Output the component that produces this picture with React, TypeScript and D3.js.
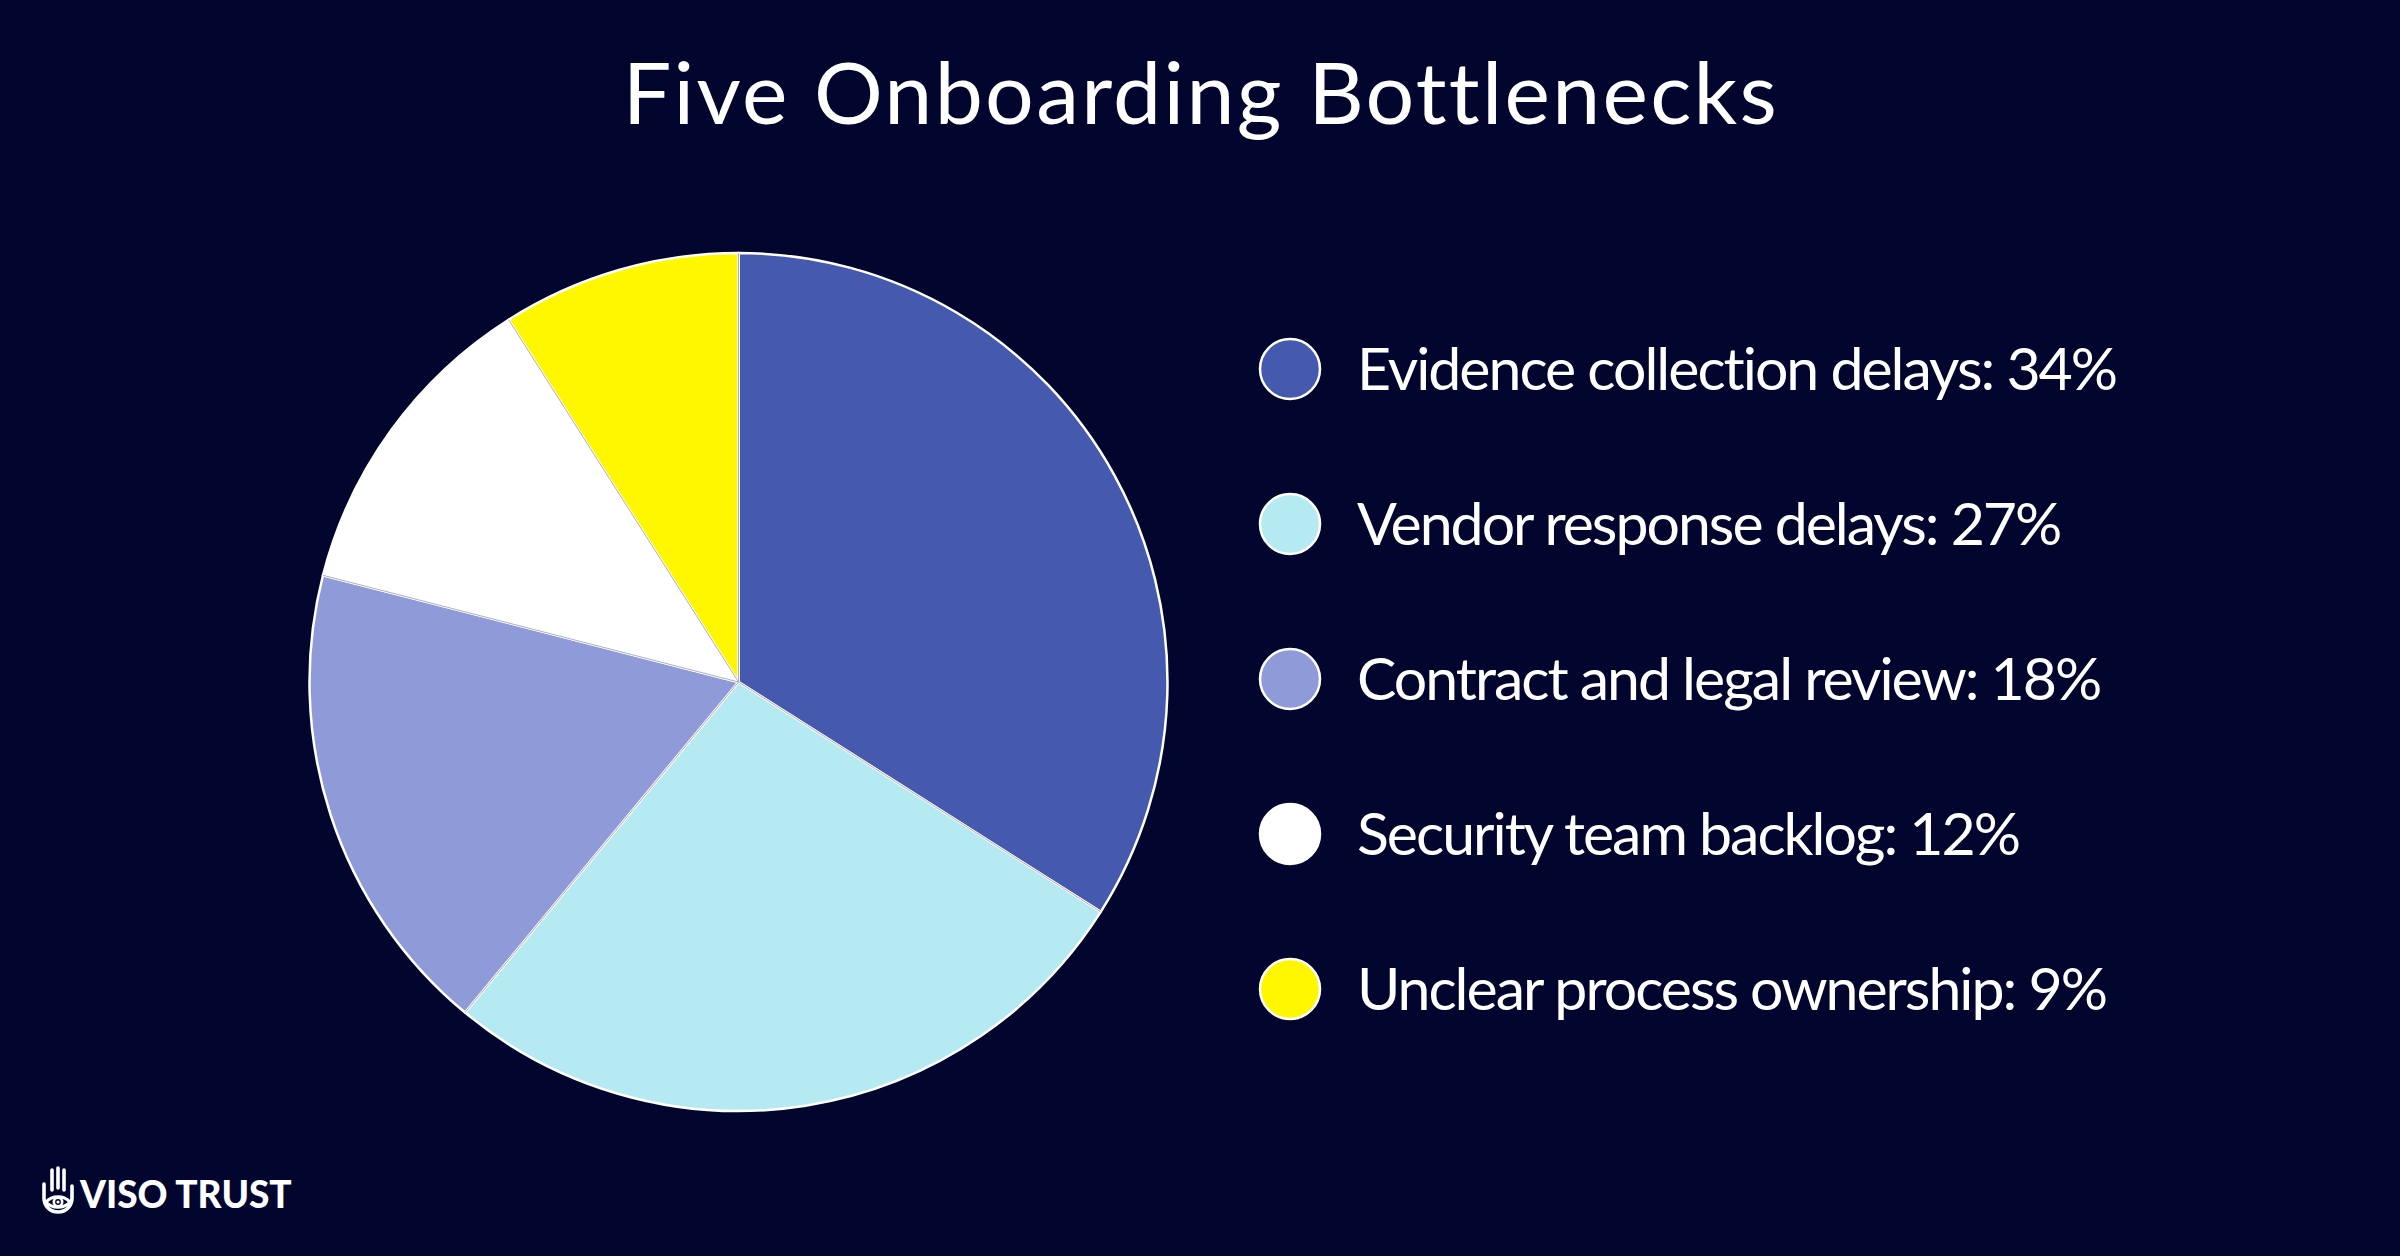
import React from "react";
import * as d3 from "d3";

const categories = [
  "Evidence collection delays",
  "Vendor response delays",
  "Contract and legal review",
  "Security team backlog",
  "Unclear process ownership",
];
const values = [34, 27, 18, 12, 9];
const colors = ["#4559ae", "#b5eaf2", "#8f9ad8", "#ffffff", "#fff700"];
const title = "Five Onboarding Bottlenecks";

const W = 2400;
const H = 1256;
const BG = "#02052e";
const FONT = "Lato, 'Open Sans', sans-serif";

export default function App() {
  const cx = 738.5;
  const cy = 682;
  const r = 429;
  const pie = d3.pie<number>().sort(null).value((d) => d)(values);
  const arc = d3.arc<d3.PieArcDatum<number>>().innerRadius(0).outerRadius(r);
  const legendY = d3.scalePoint<number>().domain(d3.range(values.length)).range([369, 989]);

  return (
    <svg width={W} height={H} style={{ position: "absolute", left: 0, top: 0, display: "block" }}>
      <rect width={W} height={H} fill={BG} />
      <text x={1201} y={124} textAnchor="middle" fill="#fff" fontFamily={FONT} fontSize={86} fontWeight={400} letterSpacing={2.3}>
        {title}
      </text>
      <g transform={`translate(${cx},${cy})`}>
        {pie.map((p, i) => (
          <path key={i} d={arc(p) || ""} fill={colors[i]} stroke="#ffffff" strokeWidth={2.5} strokeLinejoin="round" />
        ))}
        {pie.map((p, i) => {
          const a = p.startAngle;
          return (
            <line key={"s" + i} x1={0} y1={0} x2={Math.sin(a) * r} y2={-Math.cos(a) * r} stroke="#9a9aaa" strokeWidth={0.8} />
          );
        })}
      </g>
      {categories.map((c, i) => (
        <g key={c} transform={`translate(0,${legendY(i)})`}>
          <circle cx={1290} cy={0} r={30} fill={colors[i]} stroke="#fff" strokeWidth={2.5} />
          <text x={1357} y={21} fill="#fff" fontFamily={FONT} fontSize={59} letterSpacing={-2}>
            {`${c}: ${values[i]}%`}
          </text>
        </g>
      ))}
      <g transform="translate(40,1166)" fill="none" stroke="#fff" strokeWidth={3.6} strokeLinecap="round" strokeLinejoin="round">
        <path d="M12 24 L12 4 M18 22 L18 2 M24 24 L24 4" />
        <path d="M4 18 L4 32 C4 40 10 46 18 46 C26 46 32 40 32 32 L32 20" />
        <path d="M6 36 C12 29 24 29 30 36 C24 43 12 43 6 36 Z" strokeWidth={3} />
        <circle cx={18} cy={36} r={4.2} strokeWidth={2.6} />
        <circle cx={18} cy={36} r={1.6} fill="#fff" stroke="none" />
      </g>
      <text x={80} y={1208} fill="#fff" fontFamily={FONT} fontWeight={900} fontSize={37}>
        VISO TRUST
      </text>
    </svg>
  );
}
